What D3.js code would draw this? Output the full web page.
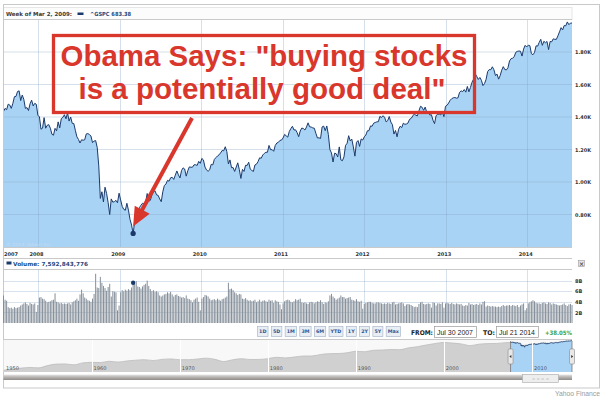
<!DOCTYPE html>
<html><head><meta charset="utf-8">
<script src="https://cdn.jsdelivr.net/npm/d3@7"></script>
<style>
html,body{margin:0;padding:0;background:#fff;}
svg{display:block;font-family:"DejaVu Sans",Verdana,sans-serif;}
</style></head><body>
<svg id="c" width="609" height="405"></svg>
<script>
// ---------------- DATA ----------------
const startDate = "2007-07-30"; // weekly points, one per week
const closes = [
// 2007 (Jul 30 - Dec 31)
1433,1453,1445,1479,1474,1453,1484,1525,1527,1557,1561,1501,1535,1509,1453,1458,1440,1481,1504,1468,1484,1478,1411,
// 2008
1401,1325,1331,1396,1331,1349,1353,1331,1294,1288,1330,1315,1370,1333,1390,1398,1414,1389,1425,1375,1400,
1361,1360,1318,1278,1262,1240,1260,1257,1260,1296,1298,1292,1283,1242,1252,1255,1213,1099,899,940,877,968,
930,873,800,896,876,879,887,872,931,
// 2009
890,850,832,826,869,827,770,735,683.38,756,768,816,842,857,869,866,877,929,882,887,919,940,946,921,918,896,
879,940,979,987,1010,1005,1026,1029,1016,1042,1068,1044,1025,1071,1087,1080,1036,1069,1093,1091,1091,1106,
1106,1102,1127,1115,
// 2010
1145,1136,1092,1074,1066,1075,1109,1105,1139,1150,1160,1167,1179,1194,1192,1217,1187,1111,1136,1088,1089,1065,
1092,1118,1076,1022,1078,1065,1103,1102,1122,1079,1071,1065,1105,1110,1126,1149,1146,1166,1176,1183,1183,
1225,1199,1199,1189,1225,1240,1244,1256,1258,
// 2011
1271,1293,1284,1276,1311,1329,1343,1320,1321,1304,1279,1314,1332,1329,1320,1338,1364,1340,1338,1333,1331,1300,
1271,1272,1268,1339,1344,1316,1345,1292,1199,1179,1123,1177,1174,1154,1216,1136,1131,1155,1225,1238,1285,1253,
1264,1216,1159,1244,1255,1219,1265,1258,
// 2012
1278,1289,1315,1316,1345,1343,1362,1366,1370,1371,1404,1397,1408,1398,1370,1378,1403,1369,1353,1295,1317,1278,
1325,1343,1335,1362,1355,1357,1363,1386,1391,1406,1418,1411,1407,1438,1466,1460,1441,1461,1429,1433,1412,1414,
1380,1359,1409,1416,1418,1413,1430,1402,1466,
// 2013
1472,1486,1503,1513,1518,1520,1516,1518,1552,1561,1556,1569,1553,1588,1555,1582,1614,1633,1667,1650,1631,
1643,1626,1593,1606,1632,1680,1692,1691,1709,1691,1655,1664,1633,1655,1688,1710,1692,1690,1703,1745,1759,1762,
1771,1798,1804,1806,1805,1775,1818,1841,1831,
// 2014 (Jan 6 - Jul 21)
1842,1839,1790,1783,1797,1838,1836,1859,1878,1841,1866,1857,1865,1815,1865,1863,1881,1878,1878,1900,1924,
1950,1936,1963,1961,1985,1968,1978,1978
];
// weekly volume, billions of shares
const volumes = [
// 2007
5.2,4.4,4.2,3.0,2.8,2.9,2.7,3.0,2.8,2.9,3.0,3.3,3.5,3.7,3.9,3.6,3.3,3.8,3.6,3.5,3.7,2.1,3.4,
// 2008
4.8,4.9,4.6,4.5,4.2,3.9,4.0,4.1,4.3,4.4,5.6,4.0,3.9,3.7,3.8,3.6,3.7,3.6,3.7,3.8,3.5,
3.9,4.1,4.3,4.6,4.2,5.4,6.3,5.6,4.8,4.6,4.3,4.2,4.0,4.6,5.5,9.3,6.7,6.6,8.7,7.6,7.0,6.6,
6.1,6.8,7.4,5.0,6.0,5.9,5.8,2.4,3.3,
// 2009
5.8,6.2,6.0,6.3,6.1,6.4,6.2,6.7,7.59,7.4,7.9,6.9,6.8,6.5,6.9,7.2,7.4,8.0,7.0,6.4,6.0,6.2,5.9,6.0,5.8,5.2,
5.0,5.2,5.4,5.5,5.8,5.6,5.9,5.4,5.0,5.3,5.4,5.1,5.0,4.8,4.9,4.7,5.2,4.6,4.5,4.3,3.9,4.4,
4.6,4.8,4.0,2.4,
// 2010
4.6,4.9,5.3,5.2,5.0,4.6,4.3,4.4,4.5,4.3,4.6,4.4,4.2,4.5,4.6,4.8,5.0,7.6,6.4,6.5,6.2,5.8,
5.6,5.3,5.5,5.4,4.6,4.5,4.7,4.4,4.2,4.3,4.1,4.2,4.4,3.9,4.1,4.4,4.0,4.2,4.3,4.1,4.0,
4.4,4.2,4.3,3.8,4.3,4.1,4.0,3.5,2.6,
// 2011
3.7,4.1,4.3,4.4,4.3,4.0,3.9,4.1,4.5,4.3,4.4,4.6,3.9,3.8,3.9,3.7,3.6,3.9,4.0,3.9,3.7,3.9,
4.1,4.0,4.3,3.9,3.6,3.9,3.8,4.1,5.2,5.5,5.0,4.7,4.4,4.6,4.8,5.2,4.9,4.9,4.6,4.7,4.8,4.9,
4.4,4.3,4.2,4.5,4.1,4.0,4.2,2.7,
// 2012
3.6,3.8,3.9,4.0,4.0,3.8,3.7,3.7,3.9,3.9,3.8,3.7,3.6,3.7,3.6,3.8,3.7,3.6,3.9,4.0,3.5,3.6,
3.7,3.8,3.9,3.7,3.2,3.5,3.6,3.5,3.4,3.2,3.0,3.1,3.0,3.6,3.9,4.0,3.6,3.5,3.6,3.7,3.6,2.9,
3.9,3.8,3.3,3.7,3.7,3.6,3.9,2.9,3.7,
// 2013
3.8,3.7,3.6,3.8,3.6,3.5,3.7,3.6,3.5,3.6,3.3,3.2,3.4,3.3,3.8,3.5,3.6,3.4,3.5,3.6,3.4,
3.7,3.5,4.0,4.1,3.1,3.3,3.2,3.1,3.2,3.1,3.1,3.0,3.1,3.0,3.2,3.4,3.2,3.3,3.3,3.4,3.2,3.4,
3.3,3.2,3.4,3.0,3.3,3.5,3.7,2.4,2.8,
// 2014
3.7,3.9,4.1,4.3,4.1,3.8,3.7,3.7,3.6,3.8,3.9,3.7,3.6,3.9,3.8,3.5,3.7,3.6,3.5,3.4,3.3,
3.4,3.5,3.7,3.4,3.2,3.5,3.6,3.4
];
const yearTicks = [2007,2008,2009,2010,2011,2012,2013,2014];
const priceTicks = [800,1000,1200,1400,1600,1800];
const priceTickLabels = ["0.80K","1.00K","1.20K","1.40K","1.60K","1.80K"];
const volTicks = [2,4,6,8];
const volTickLabels = ["2B","4B","6B","8B"];
const rangeButtons = ["1D","5D","1M","3M","6M","YTD","1Y","2Y","5Y","Max"];
const navStartYear = 1950;
const navValues = [16.7,20.4,23.8,26.6,24.8,35.6,45.5,46.7,40.3,55.2,59.9,58.1,71.6,63.1,75.0,84.8,92.4,80.3,96.5,103.9,
92.1,92.2,102.1,118.1,97.6,68.6,90.2,107.5,95.1,96.1,107.9,135.8,122.6,140.6,164.9,167.2,211.3,242.2,247.1,277.7,
353.4,330.2,417.1,435.7,466.5,459.3,615.9,740.7,970.4,1229.2,1469.3,1320.3,1148.1,879.8,1111.9,1211.9,1248.3,1418.3,
1468.4,903.3,1115.1,1257.6,1257.6,1426.2,1848.4];
const navDecades = [1950,1960,1970,1980,1990,2000,2010];
const markDate = "2009-03-02";
const markClose = 683.38;
const markVolume = 7592843776;
const headerLabel = "Week of Mar 2, 2009:";
const tickerLabel = "^GSPC 683.38";
const volumeLabel = "Volume: 7,592,843,776";
const fromLabel = "Jul 30 2007", toLabel = "Jul 21 2014", changeLabel = "+38.05%";
const noteLines = ["Obama Says: \"buying stocks", "is a potentially good deal\""];

// ---------------- SETUP ----------------
const parse = d3.utcParse("%Y-%m-%d");
const t0 = parse(startDate);
const dates = closes.map((_, i) => d3.utcDay.offset(t0, 7 * i));
const data = dates.map((d, i) => ({date: d, close: closes[i], vol: volumes[i]}));
const svg = d3.select("#c");
const BLUE = "#a9d3f5", NAVY = "#1b3a6b", GRIDC = "#7f9fbf", FRAME = "#c9c9c9", RED = "#d9362c";

const P = {l: 3.5, r: 572, t: 19.5, b: 247};
const x = d3.scaleUtc().domain([dates[0], dates[dates.length - 1]]).range([P.l, P.r]);
const y = d3.scaleLinear().domain([600, 2000]).range([P.b, P.t]);
const V = {t: 269.5, b: 323};
const vy = d3.scaleLinear().domain([0, 10.1]).range([V.b, V.t]);

svg.append("rect").attr("width", 609).attr("height", 405).attr("fill", "#fff");

// header strip
svg.append("rect").attr("x", P.l).attr("y", 7.5).attr("width", P.r - P.l).attr("height", 12).attr("fill", "#fcfcfc").attr("stroke", "#e6e6e6");

function txt(g, s, xx, yy, opt) {
  const t = g.append("text").attr("x", xx).attr("y", yy).text(s)
    .attr("font-size", opt.size || 5).attr("font-weight", opt.weight || "bold")
    .attr("fill", opt.fill || "#333").attr("text-anchor", opt.anchor || "start");
  if (opt.family) t.attr("font-family", opt.family);
  if (opt.len) t.attr("textLength", opt.len).attr("lengthAdjust", "spacingAndGlyphs");
  return t;
}
txt(svg, headerLabel, 6, 15.5, {size: 5.6, fill: "#3a3a3a", len: 66});
svg.append("rect").attr("x", 77.5).attr("y", 12.5).attr("width", 6).attr("height", 2.5).attr("fill", NAVY);
txt(svg, tickerLabel, 90, 15.5, {size: 5.6, fill: "#1e4a80", len: 41});

// ---------------- MAIN PRICE CHART ----------------
svg.append("clipPath").attr("id", "pc").append("rect").attr("x", P.l).attr("y", P.t).attr("width", P.r - P.l).attr("height", P.b - P.t);
const main = svg.append("g").attr("clip-path", "url(#pc)");
main.append("path").datum(data)
  .attr("d", d3.area().x(d => x(d.date)).y0(P.b).y1(d => y(d.close)))
  .attr("fill", BLUE);
main.selectAll("line.hg").data(priceTicks).join("line")
  .attr("x1", P.l).attr("x2", P.r).attr("y1", d => y(d)).attr("y2", d => y(d))
  .attr("stroke", GRIDC).attr("stroke-opacity", 0.32);
const gridYears = yearTicks.slice(1).map(yr => Date.UTC(yr, 0, 1));
main.selectAll("line.vg").data(gridYears).join("line")
  .attr("x1", d => Math.round(x(d)) + 0.5).attr("x2", d => Math.round(x(d)) + 0.5).attr("y1", P.t).attr("y2", P.b)
  .attr("stroke", GRIDC).attr("stroke-opacity", 0.32);
main.append("path").datum(data)
  .attr("d", d3.line().x(d => x(d.date)).y(d => y(d.close)))
  .attr("fill", "none").attr("stroke", NAVY).attr("stroke-width", 1);
txt(svg, "\u00a9 2014 Yahoo! Inc.", 6, 245.5, {size: 4.2, weight: "normal", fill: "#c5dbef", len: 46});

// borders
[[P.t], [P.b + 0.5], [258.5], [V.t], [339.5]].forEach(([yy]) => {
  svg.append("line").attr("x1", P.l).attr("x2", P.r).attr("y1", yy).attr("y2", yy).attr("stroke", FRAME);
});
svg.append("rect").attr("x", 3.5).attr("y", 4.5).attr("width", 596).attr("height", 383.5).attr("fill", "none").attr("stroke", FRAME);

// y axis labels (right)
const yAx = svg.append("g").attr("transform", `translate(${P.r},0)`)
  .call(d3.axisRight(y).tickValues(priceTicks).tickFormat((d, i) => priceTickLabels[i]).tickSize(0).tickPadding(3));
yAx.select(".domain").remove();
yAx.selectAll("text").attr("font-size", 5).attr("font-weight", "bold").attr("fill", "#333")
  .attr("font-family", "DejaVu Sans").attr("textLength", 16).attr("lengthAdjust", "spacingAndGlyphs");

// x axis labels
const xl = svg.append("g");
yearTicks.forEach((yr, i) => {
  const xx = i === 0 ? 4 : x(Date.UTC(yr, 0, 1)) - 1.5;
  txt(xl, String(yr), xx, 255.5, {size: 5, fill: "#333", anchor: i === 0 ? "start" : "middle", len: 14});
});

// ---------------- VOLUME ----------------
svg.append("rect").attr("x", 6.5).attr("y", 261.5).attr("width", 5).attr("height", 3).attr("fill", NAVY);
txt(svg, volumeLabel, 13, 265.5, {size: 5.6, fill: "#1e4a80", len: 75});
svg.append("rect").attr("x", 578.5).attr("y", 260.5).attr("width", 6).attr("height", 6).attr("fill", "#e4e4e4").attr("stroke", "#999").attr("stroke-width", 0.6);
txt(svg, "\u00d7", 581.5, 266, {size: 6, fill: "#444", anchor: "middle"});

const vg = svg.append("g");
vg.selectAll("line.vh").data(volTicks).join("line")
  .attr("x1", P.l).attr("x2", P.r).attr("y1", d => Math.round(vy(d)) + 0.5).attr("y2", d => Math.round(vy(d)) + 0.5)
  .attr("stroke", GRIDC).attr("stroke-opacity", 0.3);
vg.selectAll("line.vv").data(gridYears).join("line")
  .attr("x1", d => Math.round(x(d)) + 0.5).attr("x2", d => Math.round(x(d)) + 0.5).attr("y1", V.t).attr("y2", V.b)
  .attr("stroke", GRIDC).attr("stroke-opacity", 0.3);
vg.selectAll("rect.bar").data(data).join("rect")
  .attr("x", d => x(d.date) - 0.5).attr("width", 1.0)
  .attr("y", d => vy(d.vol)).attr("height", d => V.b - vy(d.vol))
  .attr("fill", "#858f9a");
const vAx = svg.append("g").attr("transform", `translate(${P.r},0)`)
  .call(d3.axisRight(vy).tickValues(volTicks).tickFormat((d, i) => volTickLabels[i]).tickSize(0).tickPadding(3));
vAx.select(".domain").remove();
vAx.selectAll("text").attr("font-size", 5).attr("font-weight", "bold").attr("fill", "#333").attr("font-family", "DejaVu Sans");

// ---------------- ANNOTATION ----------------
const mx = x(parse(markDate)), my = y(markClose);
const ann = svg.append("g");
ann.append("rect").attr("x", 53.5).attr("y", 35.5).attr("width", 421).attr("height", 77)
  .attr("fill", "none").attr("stroke", RED).attr("stroke-width", 3.3);
const nf = "'Liberation Sans', Arial, Helvetica, sans-serif";
const note = ann.append("text").attr("font-family", nf).attr("font-weight", "bold").attr("font-size", 29.5)
  .attr("fill", RED).attr("text-anchor", "middle");
note.append("tspan").attr("x", 264).attr("y", 65.5).attr("textLength", 407).attr("lengthAdjust", "spacingAndGlyphs").text(noteLines[0]);
note.append("tspan").attr("x", 262).attr("y", 98.5).attr("textLength", 367).attr("lengthAdjust", "spacingAndGlyphs").text(noteLines[1]);
// arrow
const sx = 192, sy = 118, tx = mx, ty = my - 7;
const dx = tx - sx, dy = ty - sy, L = Math.hypot(dx, dy), ux = dx / L, uy = dy / L;
const hl = 19, hw = 8.5;
const bx0 = tx - hl * ux, by0 = ty - hl * uy;
ann.append("line").attr("x1", sx).attr("y1", sy).attr("x2", bx0 + ux * 2).attr("y2", by0 + uy * 2)
  .attr("stroke", RED).attr("stroke-width", 4);
ann.append("path").attr("d", `M${tx},${ty}L${bx0 - uy * hw},${by0 + ux * hw}L${bx0 + uy * hw},${by0 - ux * hw}Z`).attr("fill", RED);
svg.append("circle").attr("cx", mx).attr("cy", my).attr("r", 2.6).attr("fill", NAVY);
svg.append("circle").attr("cx", mx).attr("cy", vy(markVolume / 1e9)).attr("r", 2.2).attr("fill", NAVY);

// ---------------- RANGE BUTTONS ----------------
const bg = svg.append("g");
const bStart = 257.5, bEnd = 400.5;
const btns = rangeButtons.map(lbl => {
  const r = bg.append("rect").attr("y", 326.5).attr("height", 10).attr("fill", "#e9eef5").attr("stroke", "#aab8cb").attr("stroke-width", 0.7);
  const t = txt(bg, lbl, 0, 333.3, {size: 4.8, fill: "#2f5590", anchor: "middle"});
  return {r, t, w: t.node().getComputedTextLength() + 3.2};
});
const totalW = d3.sum(btns, b => b.w);
const gap = (bEnd - bStart - totalW) / (btns.length - 1);
let bxp = bStart;
btns.forEach(b => {
  b.r.attr("x", bxp).attr("width", b.w);
  b.t.attr("x", bxp + b.w / 2);
  bxp += b.w + gap;
});
txt(svg, "FROM:", 411, 334.5, {size: 6.5, fill: "#222", len: 22});
svg.append("rect").attr("x", 434.5).attr("y", 326.5).attr("width", 42).attr("height", 11).attr("fill", "#fff").attr("stroke", "#999").attr("stroke-width", 0.7);
txt(svg, fromLabel, 437, 334.5, {size: 6.8, weight: "normal", fill: "#222", family: nf, len: 36});
txt(svg, "TO:", 483, 334.5, {size: 6.5, fill: "#222", len: 12});
svg.append("rect").attr("x", 496.5).attr("y", 326.5).attr("width", 42).attr("height", 11).attr("fill", "#fff").attr("stroke", "#999").attr("stroke-width", 0.7);
txt(svg, toLabel, 499, 334.5, {size: 6.8, weight: "normal", fill: "#222", family: nf, len: 36});
txt(svg, changeLabel, 545, 334.5, {size: 6, fill: "#3ea33e", len: 27});

// ---------------- NAVIGATOR ----------------
const N = {t: 340, b: 372};
const nx = d3.scaleUtc().domain([Date.UTC(navStartYear, 0, 1), dates[dates.length - 1]]).range([3.5, 572]);
const ny = d3.scaleLog().domain([15, 2000]).range([371, 340.5]);
const navData = navValues.map((v, i) => ({date: Date.UTC(navStartYear + i, 0, 1), v}));
const ng = svg.append("g");
ng.append("rect").attr("x", 3.5).attr("y", N.t).attr("width", 568.5).attr("height", N.b - N.t).attr("fill", "#f8f8f8");
ng.append("path").datum(navData)
  .attr("d", d3.area().x(d => nx(d.date)).y0(N.b).y1(d => ny(d.v)).curve(d3.curveMonotoneX))
  .attr("fill", "#d0d0d0");
ng.append("path").datum(navData)
  .attr("d", d3.line().x(d => nx(d.date)).y(d => ny(d.v)).curve(d3.curveMonotoneX))
  .attr("fill", "none").attr("stroke", "#bdbdbd").attr("stroke-width", 0.8);
const s0 = nx(dates[0]), s1 = nx(dates[dates.length - 1]);
ng.append("path").datum(data)
  .attr("d", d3.area().x(d => nx(d.date)).y0(N.b).y1(d => ny(d.close)))
  .attr("fill", BLUE);
ng.append("path").datum(data)
  .attr("d", d3.line().x(d => nx(d.date)).y(d => ny(d.close)))
  .attr("fill", "none").attr("stroke", NAVY).attr("stroke-width", 0.9);
navDecades.slice(1).forEach(yr => {
  const xx = Math.round(nx(Date.UTC(yr, 0, 1))) + 0.5;
  ng.append("line").attr("x1", xx).attr("x2", xx).attr("y1", N.t).attr("y2", N.b).attr("stroke", "#fff").attr("stroke-width", 1);
});
navDecades.forEach((yr, i) => {
  const xx = i === 0 ? 6 : nx(Date.UTC(yr, 0, 1)) + 2;
  txt(ng, String(yr), xx, 369.5, {size: 5, weight: "normal", fill: "#555", len: 13});
});
[s0, s1].forEach((sx2, i) => {
  ng.append("line").attr("x1", sx2).attr("x2", sx2).attr("y1", N.t + 1).attr("y2", N.b).attr("stroke", "#777").attr("stroke-width", 0.8);
  ng.append("rect").attr("x", sx2 - 2.5).attr("y", 349).attr("width", 5).attr("height", 15).attr("rx", 1.2)
    .attr("fill", "#e8e8e8").attr("stroke", "#888").attr("stroke-width", 0.6);
  const dir = i === 0 ? -1 : 1;
  ng.append("path").attr("d", `M${sx2 + dir * 1.2},356.5L${sx2 - dir * 0.8},355L${sx2 - dir * 0.8},358Z`).attr("fill", "#333");
});
const defs = svg.append("defs");
const gr = defs.append("linearGradient").attr("id", "sb").attr("x1", 0).attr("y1", 0).attr("x2", 0).attr("y2", 1);
gr.append("stop").attr("offset", "0").attr("stop-color", "#e6e6e6");
gr.append("stop").attr("offset", "0.45").attr("stop-color", "#b9b6b4");
gr.append("stop").attr("offset", "1").attr("stop-color", "#8f8b89");
svg.append("rect").attr("x", 3.5).attr("y", 374.5).attr("width", 568.5).attr("height", 5.5).attr("fill", "url(#sb)");
svg.append("rect").attr("x", 522.5).attr("y", 374.5).attr("width", 36).attr("height", 8).attr("fill", "#eeeeee").attr("stroke", "#aaa").attr("stroke-width", 0.6);
txt(svg, "= = = =", 540.5, 380, {size: 4, weight: "normal", fill: "#999", anchor: "middle"});

// footer
txt(svg, "Yahoo Finance", 600, 396, {size: 7.2, weight: "normal", fill: "#9a9a9a", family: nf, anchor: "end", len: 45});
</script>
</body></html>
